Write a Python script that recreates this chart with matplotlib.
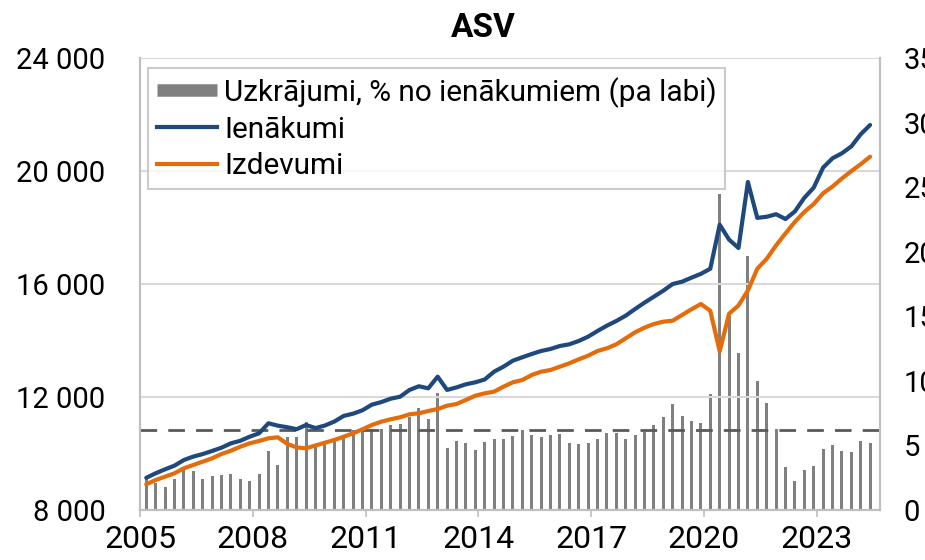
import matplotlib
matplotlib.use("Agg")
import matplotlib.pyplot as plt
from matplotlib.lines import Line2D
import numpy as np

plt.rcParams['font.family'] = ['Roboto', 'DejaVu Sans']

# Quarterly data 2005Q1 .. 2024Q2
start_year = 2005
n_quarters = 78

savings = [2.5, 2.07, 1.81, 2.40, 3.10, 3.02, 2.40, 2.61, 2.71, 2.81, 2.40, 2.22,
           2.81, 4.59, 3.49, 5.63, 5.68, 6.79, 5.03, 5.29, 5.42, 5.81, 6.2, 6.25,
           6.25, 6.25, 6.58, 6.64, 7.18, 7.87, 7.02, 9.09, 4.80, 5.34, 5.21, 4.62,
           5.30, 5.48, 5.50, 5.70, 6.18, 5.80, 5.62, 5.78, 5.90, 5.18, 5.08, 5.18,
           5.47, 6.0, 6.0, 5.47, 5.78, 6.07, 6.56, 7.18, 8.18, 7.31, 6.89, 6.70,
           9.0, 24.45, 15.0, 12.14, 19.67, 9.99, 8.30, 6.30, 3.30, 2.21, 3.10, 3.37,
           4.71, 5.01, 4.60, 4.50, 5.38, 5.18]

income = [9140, 9300, 9440, 9570, 9770, 9890, 9980, 10090, 10205, 10360, 10450, 10595,
          10715, 11070, 10985, 10930, 10860, 11010, 10900, 10990, 11130, 11330, 11410, 11530,
          11730, 11820, 11940, 12010, 12250, 12380, 12307, 12720, 12250, 12340, 12450, 12520,
          12620, 12897, 13074, 13286, 13405, 13522, 13629, 13700, 13806, 13865, 13983, 14135,
          14337, 14525, 14691, 14879, 15115, 15339, 15551, 15763, 16000, 16082, 16224, 16360,
          16540, 18100, 17570, 17275, 19610, 18340, 18380, 18470, 18300, 18570, 19050, 19410,
          20120, 20450, 20627, 20870, 21300, 21629]

expenses = [8910, 9062, 9180, 9299, 9476, 9593, 9711, 9829, 9982, 10099, 10241, 10361,
            10443, 10538, 10573, 10340, 10215, 10184, 10285, 10382, 10478, 10595, 10714, 10857,
            11009, 11126, 11211, 11282, 11388, 11423, 11505, 11575, 11692, 11752, 11894, 12046,
            12130, 12189, 12365, 12521, 12602, 12779, 12896, 12956, 13074, 13193, 13334, 13462,
            13629, 13724, 13865, 14077, 14290, 14455, 14584, 14666, 14702, 14903, 15105, 15292,
            15050, 13615, 14950, 15240, 15770, 16540, 16890, 17370, 17790, 18200, 18550, 18830,
            19211, 19450, 19735, 19995, 20240, 20507]

savings_avg = 6.2

year_ticks = [2005, 2008, 2011, 2014, 2017, 2020, 2023]
left_ticks = [8000, 12000, 16000, 20000, 24000]
right_ticks = [0, 5, 10, 15, 20, 25, 30, 35]

labels = ["Uzkrājumi, % no ienākumiem (pa labi)", "Ienākumi", "Izdevumi"]
title = "ASV"

# dates: first day of last month of each quarter, as fractional years
idx = np.arange(n_quarters)
years = start_year + idx // 4
months = 3 * (idx % 4 + 1)
x = years + (months - 1) / 12.0

blue = "#1f497d"
orange = "#e46c0a"
bar_col = "#808080"
grid_col = "#d9d9d9"
spine_col = "#bfbfbf"
fs_y = 21
fs_x = 23
fs_leg = 21.4

fig = plt.figure(figsize=(9.25, 5.6), dpi=100)
ax = fig.add_axes([140/925, 1-510/560, 740/925, 452/560])
axr = ax.twinx()
ax.set_zorder(axr.get_zorder() + 1)
ax.patch.set_visible(False)

# bars and average line on right axis
axr.bar(x, savings, width=0.08, color=bar_col, zorder=2)
axr.axhline(savings_avg, color="#595959", lw=2, dashes=(6, 4), zorder=3)
axr.set_ylim(0, 35)
axr.set_yticks(right_ticks)
axr.set_yticklabels([str(v) for v in right_ticks])
axr.tick_params(axis='y', length=0, pad=17, labelsize=fs_y)

# lines on left axis
ax.plot(x, income, color=blue, lw=3, solid_capstyle='round', zorder=5)
ax.plot(x, expenses, color=orange, lw=3, solid_capstyle='round', zorder=5)
ax.set_ylim(8000, 24000)
ax.set_yticks(left_ticks)
ax.set_yticklabels([f"{v:,}".replace(",", " ") for v in left_ticks])
ax.tick_params(axis='y', length=0, pad=25, labelsize=fs_y)
ax.set_xlim(2005, 2024.68)
ax.set_xticks(year_ticks)
ax.set_xticklabels([str(y) for y in year_ticks])
ax.tick_params(axis='x', length=5, width=1.2, color=spine_col, pad=6, labelsize=fs_x)
ax.yaxis.grid(True, color=grid_col, lw=1.5)
ax.set_axisbelow(True)

for a in (ax, axr):
    for s in ('left', 'right', 'bottom'):
        a.spines[s].set_color(spine_col)
        a.spines[s].set_linewidth(1.5)
    a.spines['top'].set_visible(False)

handles = [Line2D([], [], color=bar_col, lw=9, solid_capstyle='butt'),
           Line2D([], [], color=blue, lw=3),
           Line2D([], [], color=orange, lw=3)]
leg = ax.legend(handles, labels, loc='upper left', bbox_to_anchor=(0.011, 0.978),
                fontsize=fs_leg, frameon=True, fancybox=False, edgecolor=spine_col,
                handlelength=2.0, handletextpad=0.25, borderpad=0.3, labelspacing=0.28,
                borderaxespad=0)
leg.get_frame().set_linewidth(1.5)

fig.text(483/925, 1-28/560, title, ha='center', va='center', fontsize=24, fontweight='bold')

fig.savefig("out.png", dpi=100)
